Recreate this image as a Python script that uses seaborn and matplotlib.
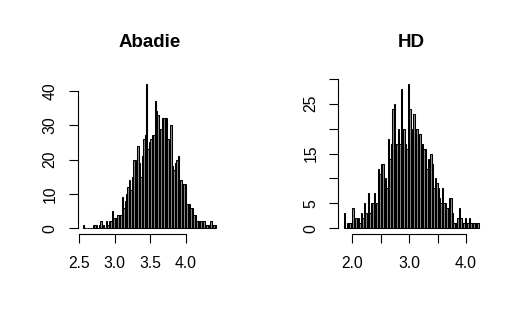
import numpy as np
import pandas as pd
import matplotlib
matplotlib.use("Agg")
import matplotlib.pyplot as plt
import seaborn as sns

# === Data: histogram counts ===
abadie_start, abadie_width = 2.56, 0.02
abadie_counts = [
    1, 0, 0, 0, 0, 0, 0, 1, 1, 1, 0, 1, 2, 0, 1, 0, 2, 1, 2, 2,
    5, 3, 3, 3, 4, 4, 4, 9, 6, 8, 10, 12, 14, 11, 15, 20, 20, 17, 24, 19,
    15, 21, 26, 27, 42, 23, 25, 26, 27, 27, 37, 34, 33, 28, 29, 32, 32, 32, 32, 26,
    24, 30, 18, 17, 19, 20, 21, 14, 14, 13, 13, 13, 7, 7, 7, 6, 6, 4, 4, 2,
    2, 2, 2, 2, 2, 1, 1, 1, 1, 2, 1, 1, 1,
]
abadie_yticks = [0, 10, 20, 30, 40]
abadie_xticks = [2.5, 3.0, 3.5, 4.0]
abadie_xlabels = ["2.5", "3.0", "3.5", "4.0"]

hd_start, hd_width = 1.85, 0.025
hd_counts = [
    3, 0, 1, 1, 1, 1, 4, 1, 2, 1, 2, 1, 3, 2, 5, 3, 2, 7, 3, 5,
    5, 7, 5, 5, 12, 11, 13, 13, 4, 10, 8, 18, 14, 17, 24, 25, 17, 17, 20, 17,
    28, 16, 20, 17, 16, 29, 24, 18, 20, 23, 20, 20, 18, 19, 17, 17, 16, 16, 12, 14,
    11, 15, 13, 8, 10, 9, 8, 6, 5, 8, 5, 5, 4, 4, 6, 6, 3, 1, 1, 1,
    2, 4, 2, 1, 1, 2, 1, 1, 2, 1, 1, 1, 1, 1, 1,
]
hd_yticks = [0, 5, 10, 15, 20, 25, 30]
hd_ylabels = ["0", "5", "", "15", "", "25", ""]
hd_xticks = [2.0, 2.5, 3.0, 3.5, 4.0]
hd_xlabels = ["2.0", "", "3.0", "", "4.0"]

sns.set_style("white")
plt.rcParams["font.family"] = ["Liberation Sans", "DejaVu Sans"]
plt.rcParams["text.color"] = "black"


def draw_panel(ax, start, width, counts, title, xticks, xlabels, yticks, ylabels):
    counts = np.asarray(counts, dtype=float)
    edges = start + width * np.arange(len(counts) + 1)
    df = pd.DataFrame({"mid": (edges[:-1] + edges[1:]) / 2, "n": counts})
    sns.histplot(data=df, x="mid", weights="n", bins=edges.tolist(), ax=ax,
                 color="#8c8c8c", edgecolor="black", linewidth=0.75, alpha=1)

    # R-style 4% padding around the data range
    xr = edges[-1] - edges[0]
    ax.set_xlim(edges[0] - 0.04 * xr, edges[-1] + 0.04 * xr)
    ymax = counts.max()
    ax.set_ylim(-0.04 * ymax, 1.04 * ymax)

    for side in ("top", "right"):
        ax.spines[side].set_visible(False)
    ax.spines["left"].set_bounds(yticks[0], yticks[-1])
    ax.spines["bottom"].set_bounds(xticks[0], xticks[-1])
    for side in ("left", "bottom"):
        ax.spines[side].set_linewidth(0.8)
        ax.spines[side].set_color("black")

    ax.set_xticks(xticks, xlabels)
    ax.set_yticks(yticks, ylabels)
    ax.tick_params(axis="both", direction="out", length=6.5, width=0.8,
                   color="black", labelsize=11.3, labelcolor="black",
                   bottom=True, left=True)
    ax.tick_params(axis="x", pad=9)
    ax.tick_params(axis="y", pad=8, labelrotation=90)
    for lab in ax.get_yticklabels():
        lab.set_va("center")
    ax.set_xlabel("")
    ax.set_ylabel("")
    ax.set_title(title, fontsize=13.5, fontweight="bold", pad=22, color="black")


fig = plt.figure(figsize=(5.3, 3.32), dpi=100)
ax1 = fig.add_axes([0.1466, 0.2949, 0.2713, 0.470])
ax2 = fig.add_axes([0.6385, 0.2949, 0.2751, 0.470])

draw_panel(ax1, abadie_start, abadie_width, abadie_counts, "Abadie",
           abadie_xticks, abadie_xlabels, abadie_yticks,
           [str(t) for t in abadie_yticks])
draw_panel(ax2, hd_start, hd_width, hd_counts, "HD",
           hd_xticks, hd_xlabels, hd_yticks, hd_ylabels)

fig.savefig("out.png", dpi=100)
